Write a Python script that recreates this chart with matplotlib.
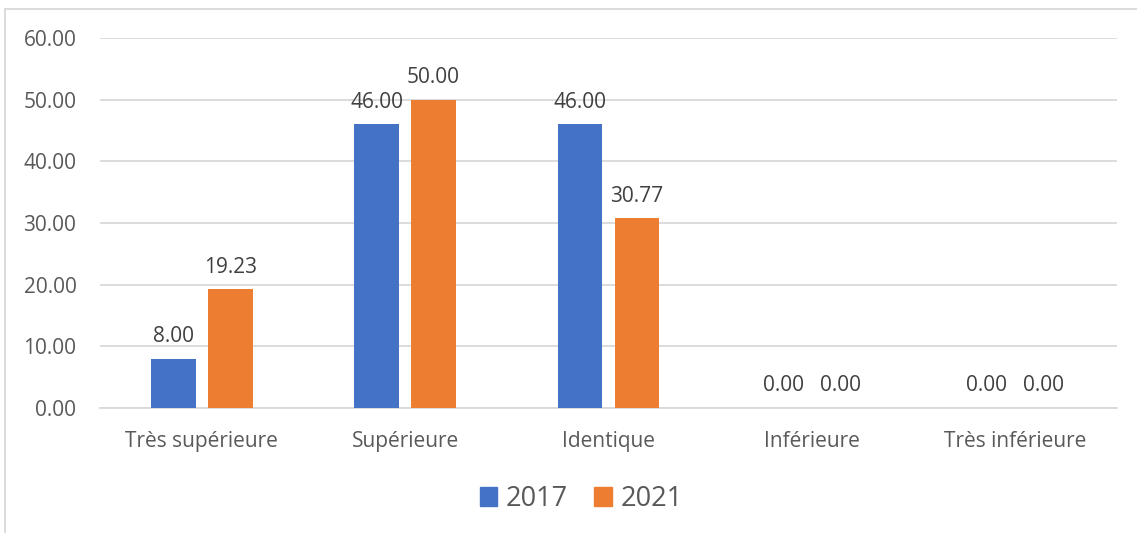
import matplotlib
matplotlib.use("Agg")
import matplotlib.pyplot as plt
from matplotlib.lines import Line2D
from matplotlib.patches import Patch
import numpy as np

categories = ["Très supérieure", "Supérieure", "Identique", "Inférieure", "Très inférieure"]
series_names = ["2017", "2021"]
values_2017 = [8.00, 46.00, 46.00, 0.00, 0.00]
values_2021 = [19.23, 50.00, 30.77, 0.00, 0.00]
yticks = [0, 10, 20, 30, 40, 50, 60]

BLUE = "#4472C4"
ORANGE = "#ED7D31"
TXT = "#595959"
LBL = "#404040"
GRID = "#D9D9D9"

plt.rcParams['font.family'] = ['Open Sans', 'DejaVu Sans']

W, H = 1137, 533
fig = plt.figure(figsize=(W / 100, H / 100), dpi=100)
ax = fig.add_axes([100 / W, (H - 408) / H, (1117 - 100) / W, (408 - 38) / H])

x = np.arange(len(categories))
bw = 0.221
off = 0.140
b1 = ax.bar(x - off, values_2017, bw, color=BLUE, zorder=3)
b2 = ax.bar(x + off, values_2021, bw, color=ORANGE, zorder=3)

for bars, vals in ((b1, values_2017), (b2, values_2021)):
    for rect, v in zip(bars, vals):
        ax.annotate(f"{v:.2f}", (rect.get_x() + rect.get_width() / 2, v),
                    xytext=(0, 16), textcoords="offset points",
                    ha="center", va="center", fontsize=15, color=LBL)

ax.set_xlim(-0.5, len(categories) - 0.5)
ax.set_ylim(0, 60)
ax.set_yticks(yticks)
ax.set_yticklabels([f"{t:.2f}" for t in yticks])
ax.set_xticks(x)
ax.set_xticklabels(categories)
ax.tick_params(axis="both", length=0, colors=TXT, labelsize=15)
ax.tick_params(axis="y", pad=17)
ax.tick_params(axis="x", pad=16.5)
ax.grid(axis="y", color=GRID, linewidth=1.3, zorder=0)
for s in ("top", "right", "left"):
    ax.spines[s].set_visible(False)
ax.spines["bottom"].set_color(GRID)
ax.spines["bottom"].set_linewidth(1.3)

handles = [Patch(color=BLUE), Patch(color=ORANGE)]
fig.legend(handles, series_names, loc="center", bbox_to_anchor=(581 / W, (H - 499) / H),
           ncol=2, frameon=False, fontsize=19.5, labelcolor=TXT,
           handlelength=0.65, handleheight=0.65, handletextpad=0.3, columnspacing=1.0)

# outer border (partially visible)
fig.add_artist(Line2D([5 / W, 1.0], [(H - 9) / H, (H - 9) / H], color=GRID, linewidth=1.3,
                      transform=fig.transFigure))
fig.add_artist(Line2D([5 / W, 5 / W], [0, (H - 9) / H], color=GRID, linewidth=1.3,
                      transform=fig.transFigure))

fig.savefig("out.png", dpi=100, facecolor="white")
